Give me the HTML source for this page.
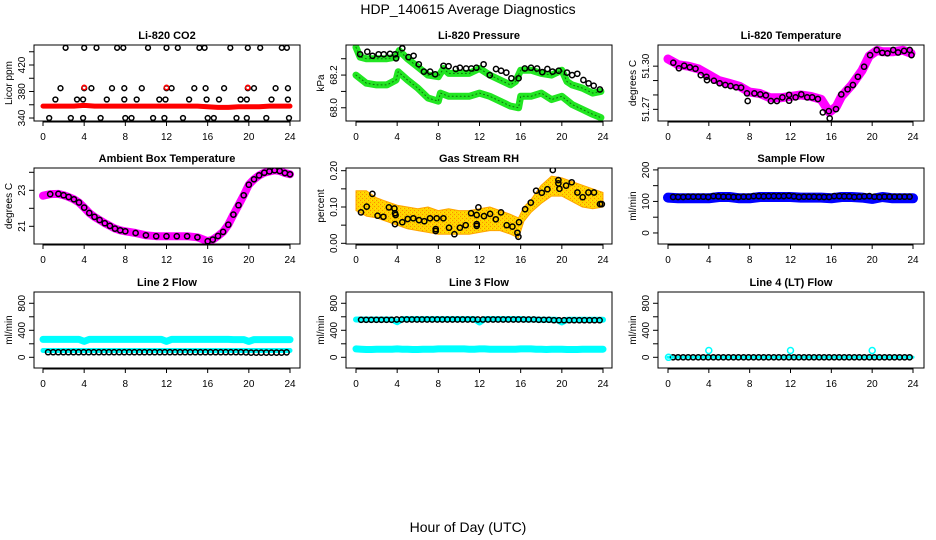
<!DOCTYPE html>
<html><head><meta charset="utf-8"><title>HDP_140615 Average Diagnostics</title>
<style>
html,body{margin:0;padding:0;background:#fff;}
svg{display:block;font-family:"Liberation Sans",Arial,sans-serif;}
</style></head>
<body>
<svg id="chart" width="936" height="540" viewBox="0 0 936 540" xmlns="http://www.w3.org/2000/svg">
<defs>
<pattern id="rhpat" width="4" height="4" patternUnits="userSpaceOnUse">
<rect width="4" height="4" fill="#ffd400"/>
<rect x="0" y="0" width="1" height="1" fill="#ff8c00"/>
<rect x="2" y="2" width="1" height="1" fill="#ff8c00"/>
<rect x="3" y="0" width="1" height="1" fill="#ffee00"/>
</pattern>
</defs>
<text x="468" y="14" font-size="14" text-anchor="middle">HDP_140615  Average Diagnostics</text>
<text x="468" y="532" font-size="14" text-anchor="middle">Hour of Day (UTC)</text>
</svg>
<script>
// ---------- data ----------
const xTicks = [0,4,8,12,16,20,24];

// CO2
const co2CircleHours = [2.2,4.0,5.2,7.2,7.8,10.2,12.0,13.1,15.2,15.7,18.2,19.9,21.1,23.2,23.7,
 1.7,4.0,4.7,6.7,7.9,9.6,12.0,12.5,14.7,15.8,17.6,19.9,20.5,22.6,23.8,
 1.2,3.3,3.9,6.2,7.9,9.1,11.3,11.9,14.2,15.9,17.1,19.2,19.8,22.2,23.8,
 0.6,2.7,3.9,5.6,8.0,8.6,10.7,11.8,13.6,16.0,16.6,18.8,19.8,21.7,23.9];
const co2CircleVals = [446,446,446,446,446,446,446,446,446,446,446,446,446,446,446,
 385,385,385,385,385,385,385,385,385,385,385,385,385,385,385,
 368,368,368,368,368,368,368,368,368,368,368,368,368,368,368,
 340,340,340,340,340,340,340,340,340,340,340,340,340,340,340];
const co2RedHours = [0,1,2,3,4,5,6,7,8,9,10,11,12,13,14,15,16,17,18,19,20,21,22,23,24];
const co2RedVals = [358,358,358,358,359,358,358,358,358,358,358,358,358,358,358,358,357,356,356,357,357,357,358,358,358];
const co2RedPointHours = [4.0,12.0,19.9];
const co2RedPointVals = [386,386,386];

// Pressure
const presCircleHours = [0.4,1.1,1.6,2.2,2.7,3.3,3.8,3.9,4.5,5.1,5.6,6.1,6.6,7.2,7.7,8.5,9.0,9.7,10.1,10.7,11.2,11.7,12.4,13.0,13.6,14.1,14.6,15.1,15.8,16.4,17.0,17.6,18.1,18.6,19.1,19.7,20.5,21.0,21.5,22.1,22.6,23.1,23.7];
const presCircleVals = [68.327,68.343,68.318,68.327,68.327,68.330,68.327,68.302,68.364,68.310,68.318,68.266,68.221,68.221,68.205,68.257,68.254,68.237,68.245,68.240,68.240,68.245,68.266,68.200,68.237,68.227,68.215,68.180,68.180,68.240,68.245,68.240,68.218,68.237,68.221,68.227,68.215,68.200,68.208,68.170,68.149,68.135,68.112];
const presUpperHours = [0,0.4,1,2,3,3.9,4.2,5,6,7,8,8.5,9,10,11,12,13,14,15,15.5,16,17,18,19,20,20.5,21,22,23,23.8];
const presUpperVals = [68.37,68.31,68.30,68.30,68.30,68.31,68.35,68.30,68.25,68.20,68.19,68.24,68.21,68.21,68.21,68.24,68.20,68.17,68.14,68.16,68.23,68.23,68.21,68.20,68.23,68.16,68.14,68.12,68.09,68.10];
const presLowerHours = [0,1,2,3,3.9,4.1,5,6,7,8,8.2,9,10,11,12,13,14,15,15.8,16,17,18,19,20,21,22,23,23.8];
const presLowerVals = [68.20,68.15,68.14,68.14,68.17,68.22,68.17,68.12,68.06,68.04,68.09,68.07,68.07,68.07,68.09,68.07,68.04,68.01,68.00,68.07,68.07,68.09,68.05,68.07,68.02,67.99,67.96,67.94];

// Li-820 temperature
const tempCircleHours = [0.52,1.07,1.59,2.14,2.69,3.21,3.76,3.82,4.5,5.05,5.61,6.12,6.67,7.16,7.74,7.81,8.46,9.04,9.59,10.08,10.67,11.21,11.86,11.86,12.5,13.06,13.64,14.13,14.68,15.16,15.75,15.84,16.46,16.98,17.59,18.11,18.6,19.21,19.8,20.44,20.99,21.5,22.06,22.54,23.13,23.68,23.85];
const tempCircleVals = [51.3024,51.2985,51.3003,51.2992,51.2982,51.2938,51.2926,51.2903,51.2899,51.2881,51.2869,51.2862,51.2853,51.2851,51.2811,51.2758,51.2811,51.2804,51.2797,51.2758,51.2758,51.2783,51.2801,51.2760,51.2783,51.2804,51.2783,51.2783,51.2772,51.2679,51.2688,51.2637,51.2702,51.2804,51.2839,51.2869,51.2926,51.2996,51.3077,51.3112,51.3093,51.3089,51.3112,51.3095,51.3106,51.3112,51.3077];
const tempBandHours = [0,1,2,3,4,5,6,7,8,9,10,11,12,13,14,15,15.8,16.5,17,18,19,19.7,20.5,21,22,23,23.8];
const tempBandVals = [51.305,51.301,51.300,51.298,51.294,51.290,51.288,51.286,51.282,51.281,51.278,51.278,51.279,51.280,51.279,51.277,51.268,51.272,51.279,51.287,51.297,51.307,51.311,51.310,51.310,51.311,51.309];

// Ambient box temperature
const ambHours = [0,0.7,1.5,2,2.5,3,3.5,4,4.5,5,5.5,6,6.5,7,7.5,8,9,10,11,12,13,14,15,16,16.5,17,17.5,18,18.5,19,19.5,20,20.5,21,21.5,22,22.5,23,23.5,24];
const ambVals = [22.70,22.79,22.80,22.73,22.63,22.50,22.32,22.04,21.74,21.52,21.35,21.17,21.02,20.87,20.78,20.72,20.63,20.50,20.45,20.45,20.45,20.45,20.39,20.17,20.26,20.46,20.69,21.09,21.65,22.17,22.72,23.31,23.61,23.83,23.98,24.05,24.11,24.07,23.96,23.89];

// Gas stream RH
const rhCircleHours = [0.49,1.04,1.59,2.1,2.66,3.2,3.73,3.79,3.85,3.79,4.5,5.02,5.57,6.12,6.64,7.19,7.74,7.74,7.84,8.49,9.04,9.56,10.1,10.66,11.18,11.73,11.73,11.73,11.89,12.44,13.03,13.58,14.09,14.64,15.2,15.68,15.78,15.84,16.43,16.98,17.5,18.05,18.6,19.12,19.67,19.67,19.76,20.41,20.96,21.51,22.03,22.58,23.13,23.71,23.88];
const rhCircleVals = [0.085,0.101,0.136,0.076,0.073,0.099,0.096,0.083,0.078,0.053,0.058,0.067,0.069,0.064,0.061,0.069,0.039,0.034,0.069,0.069,0.043,0.025,0.043,0.050,0.083,0.078,0.053,0.048,0.099,0.075,0.081,0.066,0.085,0.050,0.046,0.029,0.018,0.058,0.094,0.112,0.145,0.139,0.149,0.202,0.174,0.165,0.150,0.159,0.168,0.140,0.127,0.140,0.140,0.108,0.108];
const rhBandHours = [0,1,2,3,4,5,6,7,8,9,10,11,12,13,14,15,15.8,16.3,17,18,19,20,21,22,23,24];
const rhBandLow = [0.09,0.075,0.07,0.06,0.05,0.04,0.035,0.03,0.025,0.025,0.025,0.025,0.03,0.035,0.035,0.025,0.015,0.06,0.085,0.11,0.13,0.13,0.115,0.10,0.095,0.10];
const rhBandHigh = [0.145,0.145,0.125,0.115,0.105,0.10,0.095,0.10,0.09,0.095,0.09,0.09,0.095,0.10,0.09,0.08,0.07,0.10,0.12,0.16,0.185,0.18,0.17,0.16,0.15,0.14];

// Sample flow
const sampleCircleVals = [114,114,114,115,115,115,115,114,117,116,115,115,114,114,115,115,117,117,116,117,117,117,117,118,116,114,115,115,115,114,114,114,117,117,116,116,114,115,116,117,115,114,115,115,115,115,115,115];
const sampleBandVals = [112,110,110,110,110,114,114,110,110,114,114,114,114,112,112,112,110,114,114,112,108,114,110,110,110];

// Line 2 flow
const line2CircleVals = [75,75,75,75,75,75,75,75,75,75,75,75,75,75,75,75,75,75,75,75,75,75,75,75,75,75,75,75,75,75,75,75,75,75,75,75,75,75,75,72,70,70,70,70,70,70,70,72];
const line2UpperVals = [265,265,265,265,265,265,265,265,235,265,265,265,265,265,265,265,265,265,265,265,265,265,265,265,235,265,265,265,265,265,265,265,265,265,265,265,265,262,262,262,235,262,262,262,262,262,262,262,262];
const line2LowerVals = [100,100,100,100,100,100,100,100,100,100,100,100,100,100,100,100,100,100,100,100,100,100,100,100,100,100,100,100,100,100,100,100,100,100,100,100,100,100,100,100,100,100,100,100,100,100,100,100,100];

// Line 3 flow
const line3CircleVals = [555,555,555,555,555,555,555,560,560,560,560,560,560,560,560,560,560,560,560,560,560,560,560,560,560,560,560,560,560,560,560,560,560,560,560,555,555,555,550,550,550,550,550,550,550,550,550,550];
const line3UpperVals = [560,560,560,560,560,560,560,560,520,565,565,565,565,565,565,565,565,565,565,565,565,565,565,565,515,565,565,565,565,565,565,565,565,560,560,560,555,555,555,555,515,555,555,555,555,555,555,555,555];
const line3LowerVals = [125,120,115,115,120,120,120,120,125,120,120,115,115,120,120,120,125,125,125,125,125,125,120,120,125,125,120,120,120,120,120,120,125,125,125,120,120,115,120,120,120,115,115,115,120,120,120,120,120];

// Line 4 flow
const line4CircleVals = [0,0,0,0,0,0,0,0,0,0,0,0,0,0,0,0,0,0,0,0,0,0,0,0,0,0,0,0,0,0,0,0,0,0,0,0,0,0,0,0,0,0,0,0,0,0,0,0];
const line4CyanHours = [0.05,4.0,12.0,20.0];
const line4CyanVals = [0,100,100,100];

// ---------- drawing ----------
const NS = 'http://www.w3.org/2000/svg';
const svg = document.getElementById('chart');
function mk(tag, attrs, parent){
  const e = document.createElementNS(NS, tag);
  for (const k in attrs) e.setAttribute(k, attrs[k]);
  (parent || svg).appendChild(e);
  return e;
}
const colX = [{l:34,r:300,x0:43,x24:290},{l:346,r:612,x0:356,x24:603},{l:658,r:924,x0:668,x24:913}];
const rowY = [{t:45,b:121},{t:168,b:244},{t:292,b:368}];

function panel(opts){
  const c = colX[opts.col], rw = rowY[opts.row];
  const g = mk('g', {});
  
  
  const xs = h => c.x0 + (c.x24 - c.x0) * h / 24;
  const ys = v => rw.b - (v - opts.vmin) / (opts.vmax - opts.vmin) * (rw.b - rw.t);
  const clipId = 'clip-' + opts.name;
  const cp = mk('clipPath', {id: clipId}, g);
  mk('rect', {x:c.l, y:rw.t, width:c.r-c.l, height:rw.b-rw.t}, cp);
  const plot = mk('g', {'clip-path':'url(#'+clipId+')'}, g);
  
  
  const t = mk('text', {x:(c.l+c.r)/2, y:rw.t-6, 'font-size':11, 'font-weight':'bold', 'text-anchor':'middle'}, g);
  t.textContent = opts.title;
  
  
  const xa = mk('g', {}, g);
  
  
  mk('line', {x1:xs(0), x2:xs(24), y1:rw.b+1, y2:rw.b+1, stroke:'#000', 'stroke-width':1}, xa);
  xTicks.forEach(h => {
    mk('line', {x1:xs(h), x2:xs(h), y1:rw.b, y2:rw.b+5, stroke:'#000', 'stroke-width':1}, xa);
    const tl = mk('text', {x:xs(h), y:rw.b+19, 'font-size':10, 'text-anchor':'middle'}, xa);
    tl.textContent = h;
    
    
  });
  const ya = mk('g', {}, g);
  
  
  opts.yTicks.forEach((v, i) => {
    const y = ys(v);
    if (y < rw.t - 0.5 || y > rw.b + 0.5) return;
    mk('line', {x1:c.l-5, x2:c.l, y1:y, y2:y, stroke:'#000', 'stroke-width':1}, ya);
    if (opts.yLabels[i] !== '') {
      const tl = mk('text', {x:0, y:0, 'font-size':10, 'text-anchor':'middle', transform:'translate('+(c.l-9)+','+y+') rotate(-90)'}, ya);
      tl.textContent = opts.yLabels[i];
      
      
    }
  });
  const yt = mk('text', {x:0, y:0, 'font-size':10, 'text-anchor':'middle', transform:'translate('+(c.l-22)+','+((rw.t+rw.b)/2)+') rotate(-90)'}, g);
  yt.textContent = opts.ylab;
  
  
  const bx = mk('rect', {x:c.l, y:rw.t, width:c.r-c.l, height:rw.b-rw.t, fill:'none', stroke:'#000', 'stroke-width':1}, g);
  
  
  return {plot, xs, ys};
}
function band(p, hours, vals, color, width, name){
  const d = hours.map((h, i) => (i ? 'L' : 'M') + p.xs(h).toFixed(1) + ' ' + p.ys(vals[i]).toFixed(1)).join(' ');
  const e = mk('path', {d, fill:'none', stroke:color, 'stroke-width':width, 'stroke-linejoin':'round', 'stroke-linecap':'round'}, p.plot);
  
  
  return e;
}
function circles(p, hours, vals, color, name, r){
  const g = mk('g', {}, p.plot);
  
  
  hours.forEach((h, i) => {
    const e = mk('circle', {cx:p.xs(h).toFixed(1), cy:p.ys(vals[i]).toFixed(1), r:r||2.6, fill:'none', stroke:color, 'stroke-width':1.5}, g);
    
    
  });
}
const halfHours = line2UpperVals.map((v, i) => i * 0.5);
const circleHours = line2CircleVals.map((v, i) => 0.5 + i * 0.493);
const hourly = sampleBandVals.map((v, i) => i);

let p = panel({name:'co2-panel', col:0, row:0, title:'Li-820 CO2', ylab:'Licor ppm', vmin:335.5, vmax:450.2,
  yTicks:[340,360,380,400,420,440], yLabels:['340','','380','','420','']});
band(p, co2RedHours, co2RedVals, '#ff0000', 5, 'co2-raw-band');
circles(p, co2CircleHours, co2CircleVals, '#000', 'co2-average-points', 2.4);
circles(p, co2RedPointHours, co2RedPointVals, '#ff0000', 'co2-red-points', 2.2);

p = panel({name:'pressure-panel', col:1, row:0, title:'Li-820 Pressure', ylab:'kPa', vmin:67.919, vmax:68.384,
  yTicks:[68.0,68.1,68.2,68.3], yLabels:['68.0','','68.2','']});
band(p, presUpperHours, presUpperVals, '#22e622', 7, 'pressure-band-upper');
band(p, presLowerHours, presLowerVals, '#22e622', 7, 'pressure-band-lower');
band(p, presUpperHours, presUpperVals, '#0c700c', 1, 'pressure-band-upper-core').setAttribute('stroke-dasharray','1 3');
band(p, presLowerHours, presLowerVals, '#0c700c', 1, 'pressure-band-lower-core').setAttribute('stroke-dasharray','1 3');
circles(p, presCircleHours, presCircleVals, '#000', 'pressure-average-points');

p = panel({name:'li820-temperature-panel', col:2, row:0, title:'Li-820 Temperature', ylab:'degrees C', vmin:51.2619, vmax:51.3147,
  yTicks:[51.27,51.28,51.29,51.30], yLabels:['51.27','','','51.30']});
band(p, tempBandHours, tempBandVals, '#ff00ff', 9, 'temperature-band');
circles(p, tempCircleHours, tempCircleVals, '#000', 'temperature-average-points');

p = panel({name:'ambient-temperature-panel', col:0, row:1, title:'Ambient Box Temperature', ylab:'degrees C', vmin:20.017, vmax:24.239,
  yTicks:[21,22,23,24], yLabels:['21','','23','']});
band(p, ambHours, ambVals, '#ff00ff', 8, 'ambient-band');
circles(p, ambHours.slice(1), ambVals.slice(1), '#000', 'ambient-average-points');

p = panel({name:'rh-panel', col:1, row:1, title:'Gas Stream RH', ylab:'percent', vmin:-0.0019, vmax:0.2074,
  yTicks:[0,0.05,0.10,0.15,0.20], yLabels:['0.00','','0.10','','0.20']});
{
  const up = rhBandHours.map((h, i) => p.xs(h).toFixed(1) + ' ' + p.ys(rhBandHigh[i]).toFixed(1));
  const lo = rhBandHours.map((h, i) => p.xs(h).toFixed(1) + ' ' + p.ys(rhBandLow[i]).toFixed(1)).reverse();
  const e = mk('path', {d:'M' + up.join(' L') + ' L' + lo.join(' L') + ' Z', fill:'url(#rhpat)', stroke:'#ffa500', 'stroke-width':1, 'stroke-linejoin':'round'}, p.plot);
  
  
}
circles(p, rhCircleHours, rhCircleVals, '#000', 'rh-average-points');

p = panel({name:'sample-flow-panel', col:2, row:1, title:'Sample Flow', ylab:'ml/min', vmin:-35, vmax:206,
  yTicks:[0,50,100,150,200], yLabels:['0','','100','','200']});
band(p, hourly, sampleBandVals, '#0000ff', 10, 'sample-flow-band');
circles(p, circleHours, sampleCircleVals, '#000', 'sample-flow-average-points');

const flowTicks = [0,200,400,600,800,1000];
const flowLabels = ['0','','400','','800',''];
p = panel({name:'line2-flow-panel', col:0, row:2, title:'Line 2 Flow', ylab:'ml/min', vmin:-158.5, vmax:967, yTicks:flowTicks, yLabels:flowLabels});
band(p, halfHours, line2UpperVals, '#00ffff', 7, 'line2-upper-band');
band(p, halfHours, line2LowerVals, '#00ffff', 5, 'line2-lower-band');
circles(p, circleHours, line2CircleVals, '#000', 'line2-average-points');

p = panel({name:'line3-flow-panel', col:1, row:2, title:'Line 3 Flow', ylab:'ml/min', vmin:-158.5, vmax:967, yTicks:flowTicks, yLabels:flowLabels});
band(p, halfHours, line3UpperVals, '#00ffff', 6, 'line3-upper-band');
band(p, halfHours, line3LowerVals, '#00ffff', 7, 'line3-lower-band');
circles(p, circleHours, line3CircleVals, '#000', 'line3-average-points');

p = panel({name:'line4-flow-panel', col:2, row:2, title:'Line 4 (LT) Flow', ylab:'ml/min', vmin:-158.5, vmax:967, yTicks:flowTicks, yLabels:flowLabels});
band(p, halfHours, line4CircleVals.concat([0]), '#00ffff', 3, 'line4-band');
circles(p, circleHours, line4CircleVals, '#000', 'line4-average-points');
circles(p, line4CyanHours, line4CyanVals, '#00ffff', 'line4-cyan-points', 3);
</script>
</body></html>
